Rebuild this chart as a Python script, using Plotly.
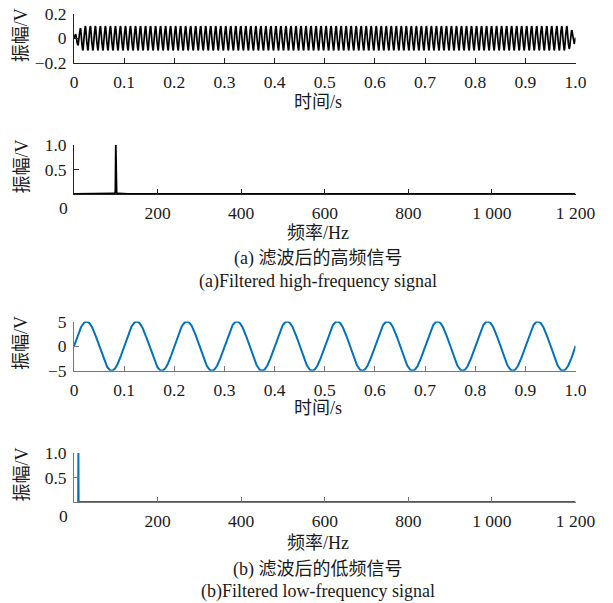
import numpy as np
import plotly.graph_objects as go

# ---------------- data ----------------
# (a) filtered high-frequency signal: 100 Hz sine, amplitude ~0.1 V, with filter edge taper
hf_freq_hz = 100.0
hf_amp_v = 0.1
hf_env_t = [0.0, 0.004, 0.010, 0.016, 0.984, 0.990, 0.996, 1.0]
hf_env_a = [0.02, 0.04, 0.07, 0.1, 0.1, 0.08, 0.05, 0.04]

# (a) spectrum of the high-frequency signal
hf_spec_f = [0, 60, 80, 90, 95, 98, 99, 100, 101, 102, 105, 110, 120, 130, 140, 1200]
hf_spec_a = [0.0, 0.001, 0.003, 0.006, 0.01, 0.02, 0.06, 1.0, 0.06, 0.02, 0.01, 0.006, 0.004, 0.002, 0.001, 0.0]

# (b) filtered low-frequency signal: 10 Hz sine, amplitude 5 V
lf_freq_hz = 10.0
lf_amp_v = 5.0

# (b) spectrum of the low-frequency signal
lf_spec_f = [10, 10.5, 11, 1200]
lf_spec_a = [0.0, 1.0, 0.0, 0.0]

# tick labels
time_ticks = [0, 0.1, 0.2, 0.3, 0.4, 0.5, 0.6, 0.7, 0.8, 0.9, 1.0]
time_ticktext = ["0", "0.1", "0.2", "0.3", "0.4", "0.5", "0.6", "0.7", "0.8", "0.9", "1.0"]
freq_ticks = [200, 400, 600, 800, 1000, 1200]
freq_ticktext = ["200", "400", "600", "800", "1 000", "1 200"]
hf_yticks = [-0.2, 0, 0.2]
hf_yticktext = ["\u22120.2", "0", "0.2"]
lf_yticks = [-5, 0, 5]
lf_yticktext = ["\u22125", "0", "5"]
spec_yticks = [0.5, 1.0]
spec_yticktext = ["0.5", "1.0"]

# ---------------- build sampled signals ----------------
fs = 4000
t = np.arange(0, 1.0 + 1 / fs, 1 / fs)
env = np.interp(t, hf_env_t, hf_env_a) / hf_amp_v
hf_sig = hf_amp_v * env * np.sin(2 * np.pi * hf_freq_hz * t)
lf_sig = lf_amp_v * np.sin(2 * np.pi * lf_freq_hz * t)

# ---------------- layout helpers ----------------
W, H = 613, 603
def px(x):
    return x / W
def py(y):
    return 1 - y / H

FONT = "Liberation Serif, 'Times New Roman', 'Noto Sans CJK SC', serif"
TXT = "#1a1a1a"
BLUE = "#0072BD"

x_dom = [px(74), px(575.5)]
panels = [(14, 62.5), (145, 194), (321.5, 370.7), (453, 502)]

fig = go.Figure()
fig.add_trace(go.Scatter(x=t, y=hf_sig, mode="lines", line=dict(color="black", width=1.7),
                         xaxis="x", yaxis="y", hoverinfo="skip"))
fig.add_trace(go.Scatter(x=hf_spec_f, y=hf_spec_a, mode="lines", line=dict(color="black", width=1.8),
                         xaxis="x2", yaxis="y2", hoverinfo="skip"))
fig.add_trace(go.Scatter(x=t, y=lf_sig, mode="lines", line=dict(color=BLUE, width=2),
                         xaxis="x3", yaxis="y3", hoverinfo="skip"))
fig.add_trace(go.Scatter(x=lf_spec_f, y=lf_spec_a, mode="lines", line=dict(color=BLUE, width=2),
                         xaxis="x4", yaxis="y4", hoverinfo="skip"))

axcol = ["#222222", "#222222", "#777777", "#777777"]

def xax(i, rng, tv, tt):
    return dict(domain=x_dom, range=rng, anchor="y" + ("" if i == 1 else str(i)),
                showgrid=False, zeroline=False, showline=True, linecolor=axcol[i - 1], linewidth=1,
                ticks="inside", ticklen=5, tickcolor=axcol[i - 1], tickwidth=1,
                tickvals=tv, ticktext=tt, tickfont=dict(family=FONT, size=17.5, color=TXT),
                ticklabelstandoff=3, automargin=False, fixedrange=True)

def yax(i, rng, tv, tt):
    top, bot = panels[i - 1]
    return dict(domain=[py(bot), py(top)], range=rng, anchor="x" + ("" if i == 1 else str(i)),
                showgrid=False, zeroline=False, showline=True, linecolor=axcol[i - 1], linewidth=1,
                ticks="inside", ticklen=5, tickcolor=axcol[i - 1], tickwidth=1,
                tickvals=tv, ticktext=tt, tickfont=dict(family=FONT, size=17.5, color=TXT),
                ticklabelstandoff=3, automargin=False, fixedrange=True)

layout = dict(
    width=W, height=H, margin=dict(l=0, r=0, t=0, b=0, autoexpand=False),
    paper_bgcolor="white", plot_bgcolor="white", showlegend=False,
    font=dict(family=FONT, size=17, color=TXT),
    xaxis=xax(1, [0, 1.0], time_ticks, time_ticktext),
    yaxis=yax(1, [-0.2, 0.2], hf_yticks, hf_yticktext),
    xaxis2=xax(2, [0, 1200], freq_ticks, freq_ticktext),
    yaxis2=yax(2, [0, 1.0], spec_yticks, spec_yticktext),
    xaxis3=xax(3, [0, 1.0], time_ticks, time_ticktext),
    yaxis3=yax(3, [-5, 5], lf_yticks, lf_yticktext),
    xaxis4=xax(4, [0, 1200], freq_ticks, freq_ticktext),
    yaxis4=yax(4, [0, 1.0], spec_yticks, spec_yticktext),
)
fig.update_layout(**layout)

ann = []
def text(x, y, s, size=18, angle=0):
    ann.append(dict(x=px(x), y=py(y), xref="paper", yref="paper", text=s, showarrow=False,
                    xanchor="center", yanchor="middle", textangle=angle,
                    font=dict(family=FONT, size=size, color=TXT)))

# y-axis titles
for (top, bot) in panels:
    text(21, (top + bot) / 2 - 3, "振幅/V", angle=-90)
# "0" at frequency axis origin
text(63, 208, "0", size=17.5)
text(63, 516, "0", size=17.5)
# x-axis titles and captions
text(318, 102, "时间/s")
text(318, 233, "频率/Hz")
text(318, 258, "(a) 滤波后的高频信号")
text(318, 281, "(a)Filtered high-frequency signal")
text(318, 408, "时间/s")
text(318, 543, "频率/Hz")
text(318, 569, "(b) 滤波后的低频信号")
text(318, 591, "(b)Filtered low-frequency signal")
fig.update_layout(annotations=ann)

fig.write_html("out.html", config={"displayModeBar": False, "staticPlot": True},
               post_script="document.body.style.margin='0px';document.body.style.padding='0px';")
